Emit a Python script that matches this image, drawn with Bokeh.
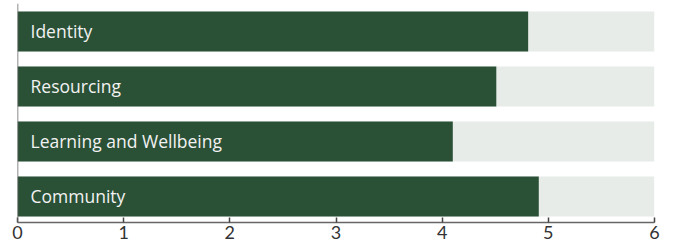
from bokeh.plotting import figure
from bokeh.models import Range1d, ColumnDataSource, FixedTicker
from bokeh.core.properties import value
from bokeh.embed import file_html
from bokeh.resources import INLINE

categories = ["Identity", "Resourcing", "Learning and Wellbeing", "Community"]
scores = [4.81, 4.51, 4.10, 4.91]
max_score = 6
x_ticks = [0, 1, 2, 3, 4, 5, 6]

n = len(categories)
ypos = [n - 1 - i for i in range(n)]

src = ColumnDataSource(dict(
    cat=categories, y=ypos, score=scores,
    full=[max_score] * n, zero=[0] * n,
))

p = figure(frame_width=637, frame_height=219, output_backend="svg", toolbar_location=None,
           x_range=Range1d(0, 6), y_range=Range1d(-0.473, 3.509),
           min_border_left=17, min_border_right=12, min_border_top=3,
           min_border_bottom=0)
p.outline_line_color = None
p.xgrid.visible = False
p.ygrid.visible = False
p.background_fill_color = "white"

p.hbar(y="y", left="zero", right="full", height=0.727, source=src,
       fill_color="#e8ece9", line_color=None)
p.hbar(y="y", left="zero", right="score", height=0.727, source=src,
       fill_color="#2a5036", line_color=None)
p.text(x="zero", y="y", text="cat", source=src, x_offset=13,
       text_baseline="middle", text_align="left", text_color="#f2f2f2",
       text_font=value("Open Sans"), text_font_size="17.5px")

xa = p.xaxis[0]
xa.ticker = FixedTicker(ticks=x_ticks)
xa.major_tick_in = 5
xa.major_tick_out = 0
xa.minor_tick_line_color = None
xa.axis_line_color = "#666666"
xa.axis_line_width = 1.5
xa.major_tick_line_color = "#444444"
xa.major_tick_line_width = 1.5
xa.major_label_text_font = "Lato"
xa.major_label_text_font_size = "18px"
xa.major_label_text_color = "#333333"
xa.major_label_standoff = 3

ya = p.yaxis[0]
ya.ticker = FixedTicker(ticks=[])
ya.axis_line_color = "#666666"
ya.axis_line_width = 1.5
ya.major_label_text_font_size = "0px"
ya.major_tick_line_color = None
ya.minor_tick_line_color = None
ya.fixed_location = 0

open("out.html", "w").write(file_html(p, INLINE))
